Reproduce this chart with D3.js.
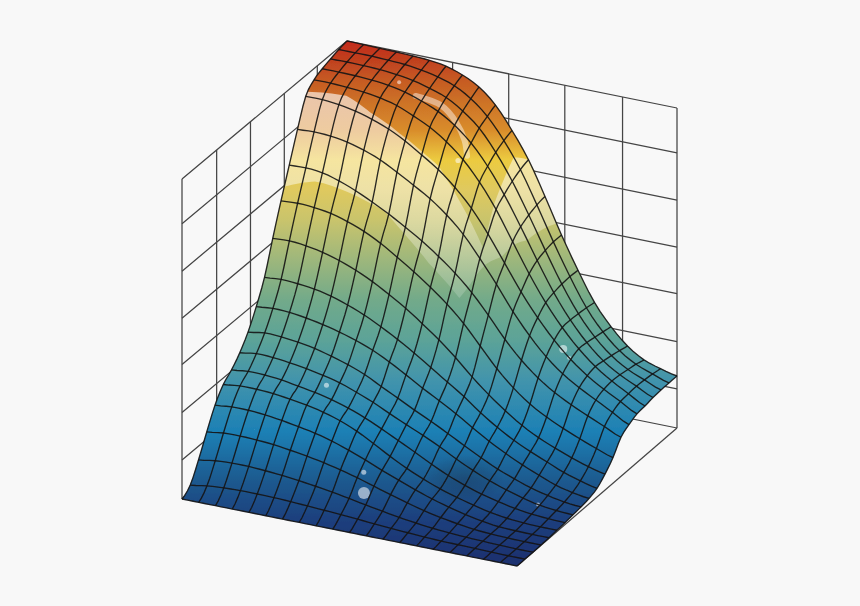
<!DOCTYPE html>
<html><head><meta charset="utf-8"><style>html,body{margin:0;background:#f8f8f8}svg{display:block}</style>
<script src="https://cdn.jsdelivr.net/npm/d3@7"></script></head><body><svg id="c" width="860" height="606"></svg>
<script>
// heights: heights[j][i], j = row front→back, i = column left→right (axis fractions)
const heights = [
[0,0,0,0,0,0,0,0,0,0,0,0,0,0,0,0,0,0,0,0,0],
[.022,.03,.034,.036,.036,.035,.033,.03,.027,.024,.02,.016,.012,.009,.006,.004,.003,.002,.001,0,0],
[.079,.087,.09,.09,.087,.083,.077,.07,.062,.053,.043,.034,.025,.018,.012,.008,.005,.003,.001,0,0],
[.145,.152,.153,.151,.147,.14,.132,.122,.11,.096,.08,.064,.049,.035,.024,.015,.008,.004,.002,.001,.001],
[.207,.212,.212,.208,.201,.192,.182,.168,.15,.13,.108,.088,.068,.05,.035,.022,.012,.005,.003,.002,.002],
[.25,.256,.256,.253,.246,.238,.226,.21,.188,.16,.13,.103,.08,.06,.044,.03,.018,.01,.006,.004,.004],
[.274,.28,.279,.274,.265,.256,.244,.228,.208,.184,.158,.132,.105,.08,.06,.043,.03,.019,.012,.008,.006],
[.306,.314,.312,.306,.298,.288,.275,.256,.235,.21,.186,.163,.138,.11,.085,.063,.045,.03,.018,.012,.009],
[.349,.357,.355,.349,.34,.326,.31,.29,.263,.237,.21,.185,.158,.13,.103,.078,.058,.04,.027,.017,.012],
[.407,.412,.41,.403,.393,.38,.364,.344,.318,.288,.257,.228,.198,.165,.133,.105,.08,.058,.038,.025,.017],
[.477,.481,.478,.472,.46,.443,.422,.396,.367,.335,.3,.265,.23,.19,.155,.125,.1,.078,.056,.04,.027],
[.5775,.58,.575,.565,.55,.53,.505,.475,.443,.405,.365,.32,.27,.225,.185,.15,.122,.1,.08,.063,.05],
[.673,.676,.673,.665,.65,.63,.603,.57,.535,.497,.455,.405,.345,.285,.235,.195,.165,.14,.118,.098,.08],
[.763,.765,.76,.745,.725,.7,.673,.642,.61,.572,.53,.48,.42,.355,.3,.255,.22,.192,.168,.145,.122],
[.853,.856,.853,.845,.83,.81,.782,.752,.72,.68,.63,.565,.495,.42,.355,.3,.257,.224,.196,.168,.14],
[.935,.935,.93,.92,.905,.885,.858,.825,.79,.745,.69,.62,.54,.46,.39,.33,.28,.24,.208,.18,.152],
[.965,.965,.962,.958,.95,.937,.915,.89,.855,.81,.75,.675,.585,.495,.415,.348,.292,.247,.212,.183,.155],
[.978,.978,.977,.974,.968,.957,.94,.918,.885,.84,.778,.7,.61,.515,.425,.35,.29,.243,.21,.185,.16],
[.987,.988,.987,.985,.98,.972,.958,.94,.908,.865,.8,.72,.625,.525,.43,.348,.285,.238,.205,.183,.162],
[.995,.995,.995,.993,.99,.983,.972,.955,.925,.88,.815,.735,.635,.53,.432,.345,.28,.232,.2,.18,.1625],
[1,.999,.998,.997,.995,.992,.984,.967,.94,.894,.825,.744,.64,.53,.43,.34,.275,.225,.192,.175,.1625]
];
const wallHeightTicks = [0,.122,.27,.42,.565,.712,.86,1];
const rightWallTicks = [.32,.49,.66,.835,1];
const leftWallTicks = [0,.21,.415,.62,.82];
const rampStops = [40,60,80,100,130,160,190,220,250,300,340,380,432,480,520,566];
const rampColors = ["#c4281e","#c0401f","#c65a22","#cc7027","#d98c2b","#eccb40","#dfc95f","#c9c46c","#a8ba78","#72aa8a","#5ca398","#4294ac","#1c80b5","#1f5a8f","#1c3f7d","#1c2f6e"];
// decoration positioned in grid coordinates on the surface
const sheen = [[0,15.2],[2.2,15.5],[3.8,15.2],[5.6,15.1],[8,15.1],[11,14.4],[10.6,19],[11,20],[12.7,20],[12.4,17],[11.8,15],[10.5,12.5],[8.6,12.6],[5.7,13],[1.7,12.7],[0,12.4]];
const streak = [[5.6,17.1],[7,17.4],[8,17.2],[8.7,16.8],[9.1,16.3]];
const glints = [[4.4,17.5,2],[8.8,15.8,2.6],[5.4,6.6,2.5],[9.65,2.5,6],[9.2,3.4,2.5],[15.5,15.1,4],[15.9,15,2],[17.9,7,2]];
const hollow = [13.8,6.3];

const N = 20, SUB = 3;
const xU = d3.scaleLinear([0,N],[0,335]), xV = d3.scaleLinear([0,N],[0,165]);
const yU = d3.scaleLinear([0,N],[0,67]),  yV = d3.scaleLinear([0,N],[0,-138]);
const zS = d3.scaleLinear([0,1],[0,320]);
const project = (i,j,z)=>[182+xU(i)+xV(j)-5*(i/N)*(j/N), 499+yU(i)+yV(j)-zS(z)];
const cr=(a,b,c,d,t)=>.5*(2*b+(c-a)*t+(2*a-5*b+4*c-d)*t*t+(3*b-a-3*c+d)*t*t*t);
const cl=(v)=>Math.max(0,Math.min(N,v));
function height(fi,fj){
  const i=Math.min(Math.floor(fi),N-1), j=Math.min(Math.floor(fj),N-1), ti=fi-i, tj=fj-j;
  const row=r=>cr(heights[r][cl(i-1)],heights[r][i],heights[r][i+1],heights[r][cl(i+2)],ti);
  return Math.max(0,cr(row(cl(j-1)),row(j),row(j+1),row(cl(j+2)),tj));
}
const P=(fi,fj)=>project(fi,fj,height(fi,fj));

const svg=d3.select("#c");
const defs=svg.append("defs");
const grad=defs.append("linearGradient").attr("id","ramp").attr("gradientUnits","userSpaceOnUse").attr("x1",0).attr("x2",0).attr("y1",40).attr("y2",566);
const offset=d3.scaleLinear([40,566],[0,1]);
grad.selectAll("stop").data(rampStops).join("stop").attr("offset",d=>offset(d)).attr("stop-color",(d,k)=>rampColors[k]);
const sh=defs.append("linearGradient").attr("id","sheenG").attr("gradientUnits","userSpaceOnUse").attr("x1",0).attr("x2",0).attr("y1",90).attr("y2",280);
sh.append("stop").attr("offset",0).attr("stop-color","#fff").attr("stop-opacity",.62);
sh.append("stop").attr("offset",.5).attr("stop-color","#fff").attr("stop-opacity",.46);
sh.append("stop").attr("offset",1).attr("stop-color","#fff").attr("stop-opacity",.18);
const rg=defs.append("radialGradient").attr("id","hollowG");
rg.append("stop").attr("offset",0).attr("stop-color","#123").attr("stop-opacity",.26);
rg.append("stop").attr("offset",.6).attr("stop-color","#123").attr("stop-opacity",.13);
rg.append("stop").attr("offset",1).attr("stop-color","#123").attr("stop-opacity",0);
const bl=defs.append("filter").attr("id","soft").attr("x","-5%").attr("y","-5%").attr("width","110%").attr("height","110%");
bl.append("feGaussianBlur").attr("stdDeviation",.45);

const root=svg.append("g").attr("filter","url(#soft)");
root.append("rect").attr("width",860).attr("height",606).attr("fill","#f8f8f8");
const line=d3.line();
const walls=root.append("g").attr("fill","none").attr("stroke","#444").attr("stroke-width",1.25);
wallHeightTicks.forEach(z=>{
  walls.append("path").attr("d",line([project(0,0,z),project(0,N,z),project(N,N,z)]));
});
rightWallTicks.forEach(u=>walls.append("path").attr("d",line([project(u*N,N,0),project(u*N,N,1)])));
leftWallTicks.forEach(v=>walls.append("path").attr("d",line([project(0,v*N,0),project(0,v*N,1)])));
walls.append("path").attr("d",line([project(N,0,0),project(N,N,0)]));

// surface patches drawn as one shape so neighbours leave no seams
const M=N*SUB;
const pts=d3.range(M+1).map(b=>d3.range(M+1).map(a=>P(a/SUB,b/SUB)));
let surfaceD="";
for(let b=M-1;b>=0;b--) for(let a=0;a<M;a++) surfaceD+=line([pts[b][a],pts[b][a+1],pts[b+1][a+1],pts[b+1][a]])+"Z";
root.append("path").attr("d",surfaceD).attr("fill","url(#ramp)").attr("stroke","url(#ramp)").attr("stroke-width",.3);

// shading
const hp=P(hollow[0],hollow[1]);
root.append("ellipse").attr("cx",hp[0]).attr("cy",hp[1]).attr("rx",40).attr("ry",24).attr("fill","url(#hollowG)");
const sampled=[];
sheen.forEach((p,k)=>{const q=sheen[(k+1)%sheen.length];
  d3.range(8).forEach(t=>sampled.push(P(p[0]+(q[0]-p[0])*t/8,p[1]+(q[1]-p[1])*t/8)));});
root.append("path").attr("d",line(sampled)+"Z").attr("fill","url(#sheenG)");
root.append("path").attr("d",d3.line().curve(d3.curveCatmullRom)(streak.map(p=>P(p[0],p[1]))))
  .attr("fill","none").attr("stroke","#fff").attr("stroke-opacity",.45).attr("stroke-width",6).attr("stroke-linecap","round");
root.append("g").selectAll("circle").data(glints).join("circle")
  .attr("cx",d=>P(d[0],d[1])[0]).attr("cy",d=>P(d[0],d[1])[1]).attr("r",d=>d[2])
  .attr("fill","#fff").attr("fill-opacity",.55);

// mesh
const mesh=root.append("g").attr("fill","none").attr("stroke","#141414").attr("stroke-width",1.35).attr("stroke-opacity",.9);
d3.range(N+1).forEach(j=>mesh.append("path").attr("d",line(d3.range(M+1).map(a=>pts[j*SUB][a]))));
d3.range(N+1).forEach(i=>mesh.append("path").attr("d",line(d3.range(M+1).map(b=>pts[b][i*SUB]))));
</script></body></html>
